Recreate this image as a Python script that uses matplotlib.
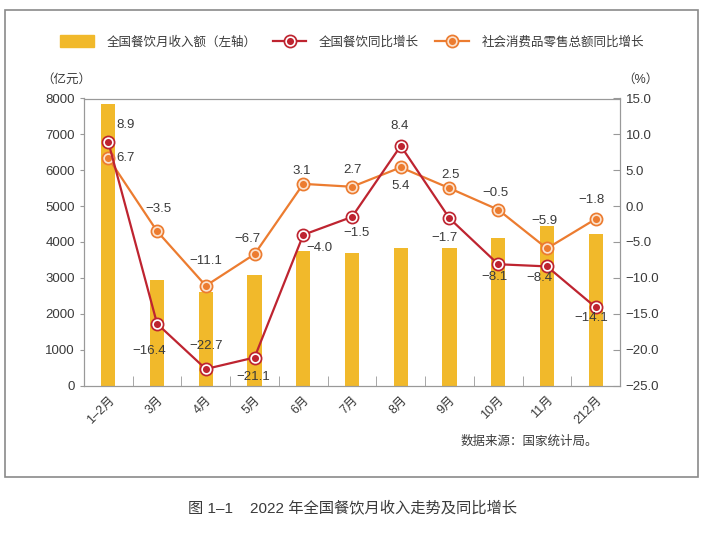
import numpy as np
import matplotlib
matplotlib.use('Agg')
import matplotlib.pyplot as plt
from matplotlib.patches import Patch, Rectangle
from matplotlib.lines import Line2D
from matplotlib.legend_handler import HandlerTuple

plt.rcParams['font.family'] = ['Liberation Sans', 'Noto Sans CJK SC', 'DejaVu Sans']

# 数据
months = ['1–2月', '3月', '4月', '5月', '6月', '7月', '8月', '9月', '10月', '11月', '212月']
income = [7850, 2950, 2610, 3090, 3760, 3700, 3820, 3820, 4100, 4440, 4210]
catering_yoy = [8.9, -16.4, -22.7, -21.1, -4.0, -1.5, 8.4, -1.7, -8.1, -8.4, -14.1]
retail_yoy = [6.7, -3.5, -11.1, -6.7, 3.1, 2.7, 5.4, 2.5, -0.5, -5.9, -1.8]

# 标签偏移 (像素)
red_off = [(17, 17), (-8, -27), (0, 23), (-1, -19), (16, -13), (5, -16),
           (-1, 20), (-5, -20), (-4, -13), (-7, -12), (-4, -11)]
org_off = [(17, 0), (1, 22), (0, 25), (-7, 15), (-2, 13), (1, 17),
           (0, -19), (1, 13), (-3, 17), (-2, 27), (-4, 19)]

bar_c = '#F1B92B'
red_c = '#BE2430'
org_c = '#EC7C30'
txt_c = '#3a3a3a'
ax_c = '#999999'

fig = plt.figure(figsize=(7.03, 5.34), dpi=100)
ax = fig.add_axes([84 / 703, 1 - 385.5 / 534, 536 / 703, 287 / 534])
x = np.arange(len(months))

ax.bar(x, income, width=0.29, color=bar_c, zorder=2)
ax.set_xlim(-0.5, 10.5)
ax.set_ylim(0, 8000)
ax.set_yticks(range(0, 8001, 1000))
ax.set_xticks(x)
ax.set_xticklabels(months, rotation=45, ha='right', rotation_mode='anchor')
ax.set_xticks(x[:-1] + 0.5, minor=True)
ax.tick_params(axis='x', which='major', length=0, pad=6, labelsize=9, labelcolor=txt_c)
ax.tick_params(axis='x', which='minor', direction='in', length=7, color=ax_c)
ax.tick_params(axis='y', direction='out', length=3, color=ax_c, labelsize=9.5, labelcolor=txt_c)
for s in ax.spines.values():
    s.set_color(ax_c)

ax2 = ax.twinx()
ax2.set_ylim(-25, 15)
ax2.set_yticks(np.arange(-25, 15.1, 5))
ax2.set_yticklabels(['%.1f' % v if v >= 0 else '\u2212%.1f' % -v for v in np.arange(-25, 15.1, 5)])
ax2.tick_params(axis='y', direction='in', length=5, color=ax_c, labelsize=9.5, labelcolor=txt_c, pad=4)
for s in ax2.spines.values():
    s.set_color(ax_c)

ax2.plot(x, retail_yoy, color=org_c, lw=1.6, marker='o', ms=9, mfc=org_c, mec=org_c, zorder=3)
ax2.plot(x, retail_yoy, ls='none', marker='o', ms=6.3, mfc=org_c, mec='#fbe3cf', mew=1.2, zorder=4)
ax2.plot(x, catering_yoy, color=red_c, lw=1.6, marker='o', ms=9, mfc=red_c, mec=red_c, zorder=5)
ax2.plot(x, catering_yoy, ls='none', marker='o', ms=6.3, mfc=red_c, mec='white', mew=1.2, zorder=6)


def fmt(v):
    return '%.1f' % v if v >= 0 else '\u2212%.1f' % -v


for i in range(len(x)):
    ax2.annotate(fmt(catering_yoy[i]), (x[i], catering_yoy[i]), xytext=red_off[i],
                 textcoords='offset pixels', ha='center', va='center', fontsize=9.5, color=txt_c, zorder=7)
    ax2.annotate(fmt(retail_yoy[i]), (x[i], retail_yoy[i]), xytext=org_off[i],
                 textcoords='offset pixels', ha='center', va='center', fontsize=9.5, color=txt_c, zorder=7)

# 单位
fig.text(66 / 703, 1 - 80 / 534, '（亿元）', ha='center', va='center', fontsize=9, color=txt_c)
fig.text(640 / 703, 1 - 80 / 534, '（%）', ha='center', va='center', fontsize=9, color=txt_c)

# 图例
h_bar = Patch(color=bar_c)
h_red = (Line2D([], [], color=red_c, lw=1.6, marker='o', ms=9, mfc=red_c, mec=red_c),
         Line2D([], [], ls='none', marker='o', ms=6.3, mfc=red_c, mec='white', mew=1.2))
h_org = (Line2D([], [], color=org_c, lw=1.6, marker='o', ms=9, mfc=org_c, mec=org_c),
         Line2D([], [], ls='none', marker='o', ms=6.3, mfc=org_c, mec='#fbe3cf', mew=1.2))
leg = fig.legend([h_bar, h_red, h_org],
                 ['全国餐饮月收入额（左轴）', '全国餐饮同比增长', '社会消费品零售总额同比增长'],
                 handler_map={tuple: HandlerTuple(ndivide=1, pad=0)},
                 loc='center', bbox_to_anchor=(352 / 703, 1 - 42 / 534), ncol=3, frameon=False,
                 fontsize=9, handlelength=2.7, handleheight=1.1, handletextpad=1.0,
                 columnspacing=1.3)
for t in leg.get_texts():
    t.set_color(txt_c)

fig.text(598 / 703, 1 - 442 / 534, '数据来源：国家统计局。', ha='right', va='center', fontsize=9, color=txt_c)

# 外框
fig.add_artist(Rectangle((5 / 703, 1 - 477 / 534), 693 / 703, 467 / 534, transform=fig.transFigure,
                         fill=False, edgecolor='#8a8a8a', lw=1.2))

fig.text(352 / 703, 1 - 509 / 534, '图 1–1    2022 年全国餐饮月收入走势及同比增长', ha='center', va='center',
         fontsize=11, color=txt_c)

fig.savefig('out.png', dpi=100)
